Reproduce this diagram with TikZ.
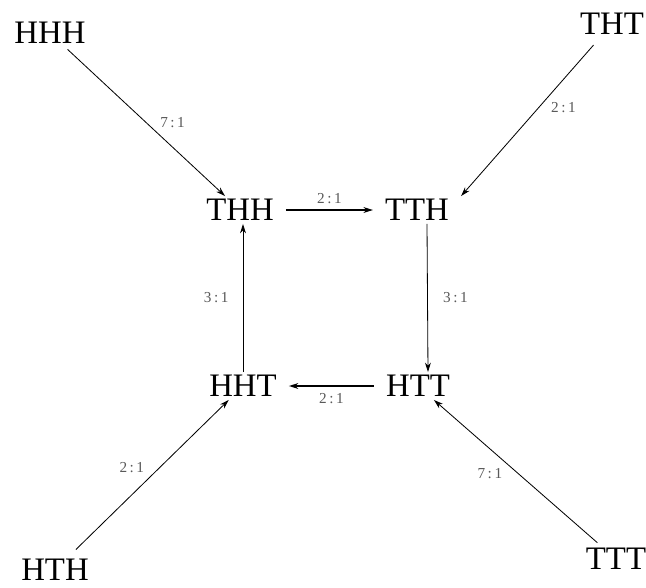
\documentclass[tikz,border=0pt]{standalone}
\usepackage{fontspec}
\setmainfont{Liberation Serif}
\usetikzlibrary{arrows.meta,positioning}

\begin{document}
\begin{tikzpicture}[
    x=0.03cm, y=-0.03cm,
    >={Stealth[length=8pt,width=5pt]},
    state/.style={inner xsep=0.36cm,inner ysep=0.09cm,font=\fontsize{28}{30}\selectfont},
    ratio/.style={font=\fontsize{13}{15}\selectfont,text=black!65,inner sep=1pt},
    link/.style={->,line width=0.7pt},
    flow/.style={->,line width=1.2pt}
]
\useasboundingbox (0,0) rectangle (646,587);

% Cycle states
\node[state] (thh) at (240,210) {THH};
\node[state] (tth) at (417,210) {TTH};
\node[state] (htt) at (418,386) {HTT};
\node[state] (hht) at (243,386) {HHT};

% Outer states
\node[state] (hhh) at (50,33) {HHH};
\node[state] (tht) at (612,24) {THT};
\node[state] (hth) at (55,570) {HTH};
\node[state] (ttt) at (616,559) {TTT};

% Cycle arrows
\draw[flow] (thh) -- (tth) node[ratio,midway,above=4pt] {2\,:\,1};
\draw[link] ([xshift=0.3cm]tth.south) -- ([xshift=0.3cm]htt.north)
    node[ratio,midway,right=12pt] {3\,:\,1};
\draw[flow] (htt) -- (hht) node[ratio,midway,below=5pt] {2\,:\,1};
\draw[link] (hht) -- (hht |- thh.south) node[ratio,midway,left=11pt] {3\,:\,1};

% Incoming arrows
\draw[link,shorten <=3pt] (hhh) -- (thh) node[ratio,pos=0.57,above right=3pt] {7\,:\,1};
\draw[link,shorten <=8pt] (tht) -- (tth.north east) node[ratio,pos=0.38,below right=3pt] {2\,:\,1};
\draw[link,shorten <=8pt] (hth) -- (hht) node[ratio,pos=0.5,above left=4pt] {2\,:\,1};
\draw[link,shorten <=3pt] (ttt) -- (htt) node[ratio,pos=0.56,below left=4pt] {7\,:\,1};

\end{tikzpicture}
\end{document}
